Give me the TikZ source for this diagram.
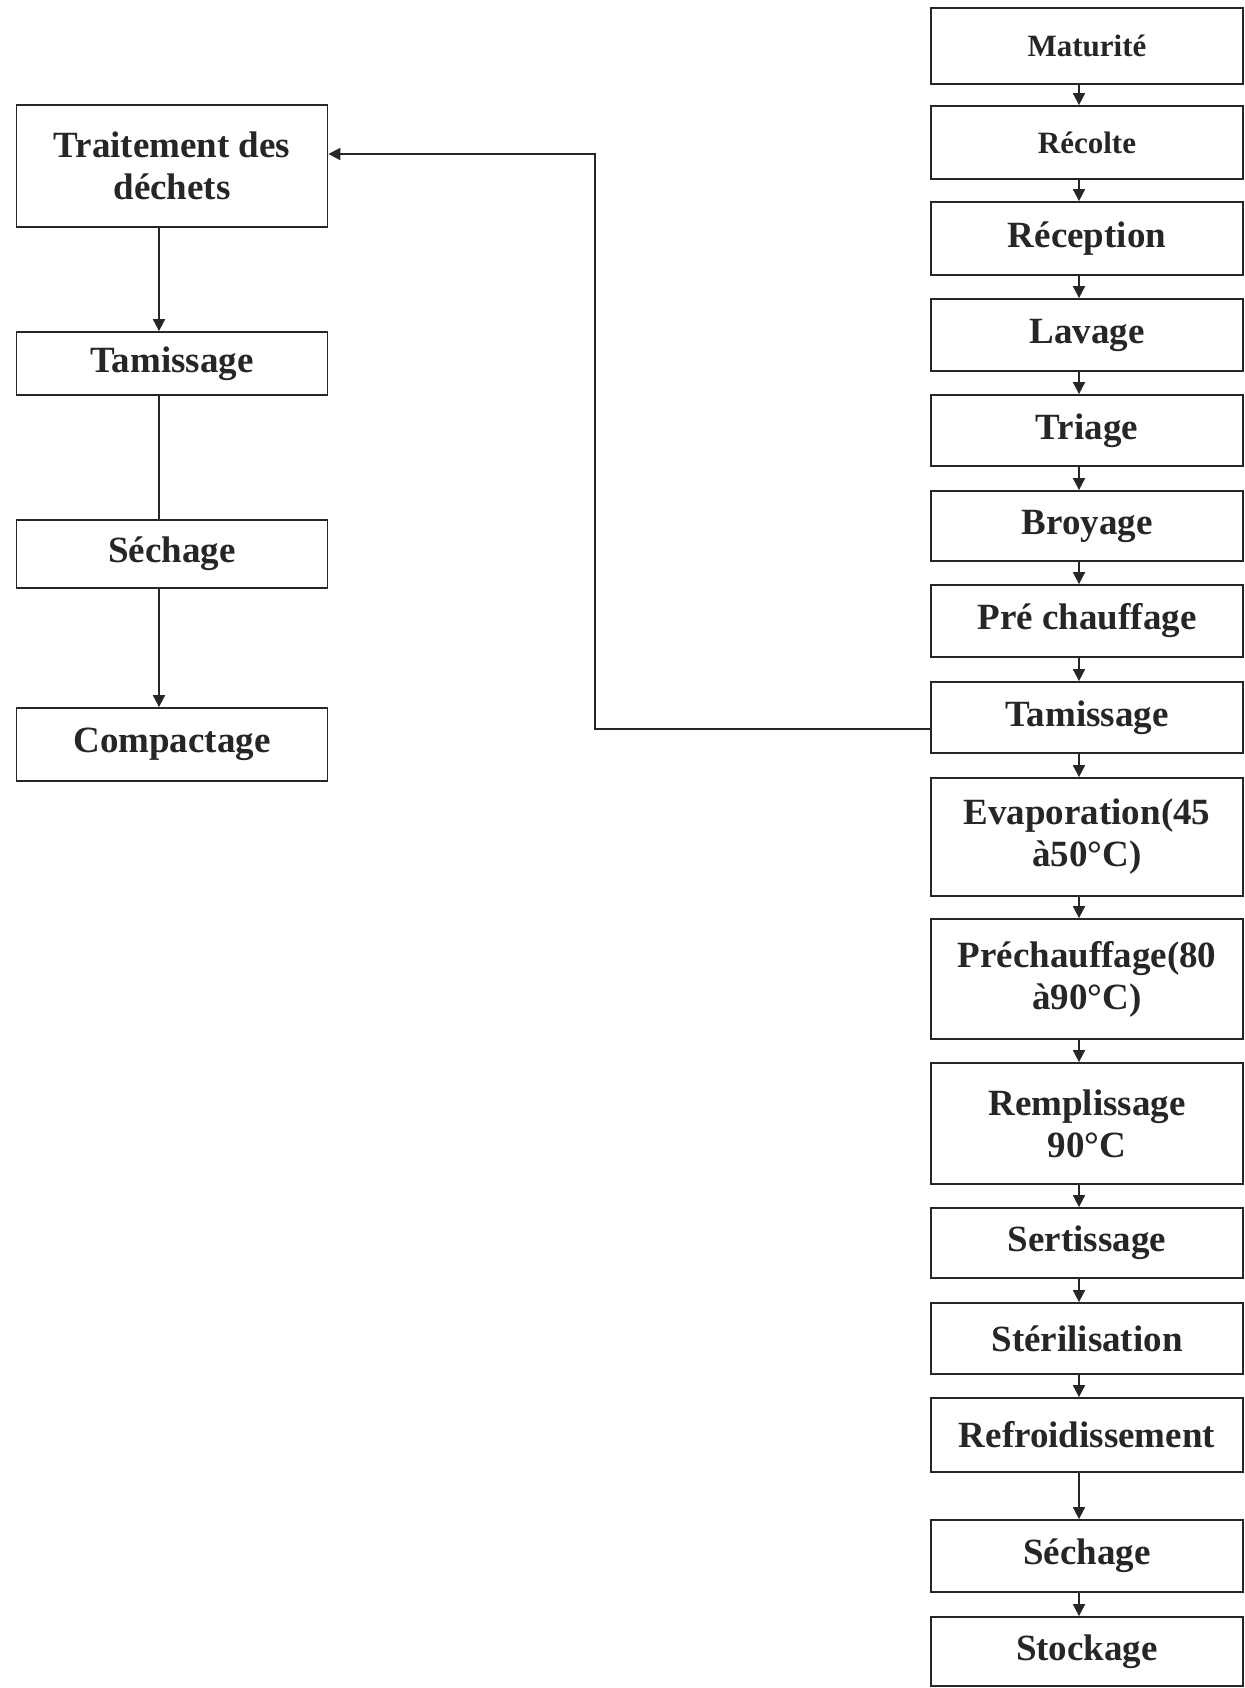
\documentclass[tikz,border=0pt]{standalone}
\usepackage{fontspec}
\setmainfont{Liberation Serif}
\usetikzlibrary{arrows.meta}
\begin{document}
\begin{tikzpicture}[x=0.5pt,y=-0.5pt,
  box/.style={draw=black!85, line width=0.9pt, rectangle, inner sep=0pt, align=center,
    font=\fontsize{18.5}{21}\selectfont\bfseries, text=black!85},
  rbox/.style={box, minimum width=156pt},
  lbox/.style={box, minimum width=155.5pt},
  smalltxt/.style={font=\fontsize{15.5}{18}\selectfont\bfseries},
  arr/.style={draw=black!85, line width=0.9pt, -{Triangle[length=6pt,width=6pt]}},
  ln/.style={draw=black!85, line width=0.9pt}]
\useasboundingbox (0,0) rectangle (1245,1688);
% right column
\node[rbox,smalltxt,minimum height=38pt]   (m1)  at (1087,46)    {Maturité};
\node[rbox,smalltxt,minimum height=36.5pt] (m2)  at (1087,142.5) {Récolte};
\node[rbox,minimum height=36.5pt] (m3)  at (1087,238.5) {Réception};
\node[rbox,minimum height=36pt]   (m4)  at (1087,335)   {Lavage};
\node[rbox,minimum height=35.5pt] (m5)  at (1087,430.5) {Triage};
\node[rbox,minimum height=35pt]   (m6)  at (1087,526)   {Broyage};
\node[rbox,minimum height=36pt]   (m7)  at (1087,621)   {Pré chauffage};
\node[rbox,minimum height=35.5pt] (m8)  at (1087,717.5) {Tamissage};
\node[rbox,minimum height=59pt]   (m9)  at (1087,837)   {Evaporation(45\\à50°C)};
\node[rbox,minimum height=60pt]   (m10) at (1087,979)   {Préchauffage(80\\à90°C)};
\node[rbox,minimum height=60.5pt] (m11) at (1087,1123.5){Remplissage\\90°C};
\node[rbox,minimum height=35pt]   (m12) at (1087,1243)  {Sertissage};
\node[rbox,minimum height=35.5pt] (m13) at (1087,1338.5){Stérilisation};
\node[rbox,minimum height=37pt]   (m14) at (1087,1435)  {Refroidissement};
\node[rbox,minimum height=36pt]   (m15) at (1087,1556)  {Séchage};
\node[rbox,minimum height=34.5pt] (m16) at (1087,1651.5){Stockage};
\foreach \a/\b in {m1/m2,m2/m3,m3/m4,m4/m5,m5/m6,m6/m7,m7/m8,m8/m9,m9/m10,m10/m11,m11/m12,m12/m13,m13/m14,m14/m15,m15/m16}
  \draw[arr] ([xshift=-4pt]\a.south) -- ([xshift=-4pt]\b.north);
% left column
\node[lbox,minimum height=61pt]   (l1) at (172,166)   {Traitement des\\déchets};
\node[lbox,minimum height=31.5pt] (l2) at (172,363.5) {Tamissage};
\node[lbox,minimum height=34pt]   (l3) at (172,554)   {Séchage};
\node[lbox,minimum height=36.5pt] (l4) at (172,744.5) {Compactage};
\draw[arr] ([xshift=-6.5pt]l1.south) -- ([xshift=-6.5pt]l2.north);
\draw[ln]  ([xshift=-6.5pt]l2.south) -- ([xshift=-6.5pt]l3.north);
\draw[arr] ([xshift=-6.5pt]l3.south) -- ([xshift=-6.5pt]l4.north);
% feedback connector
\coordinate (b1) at (595,729);
\draw[arr] ([yshift=-5.75pt]m8.west) -- (b1) |- ([yshift=6pt]l1.east);
\end{tikzpicture}
\end{document}
